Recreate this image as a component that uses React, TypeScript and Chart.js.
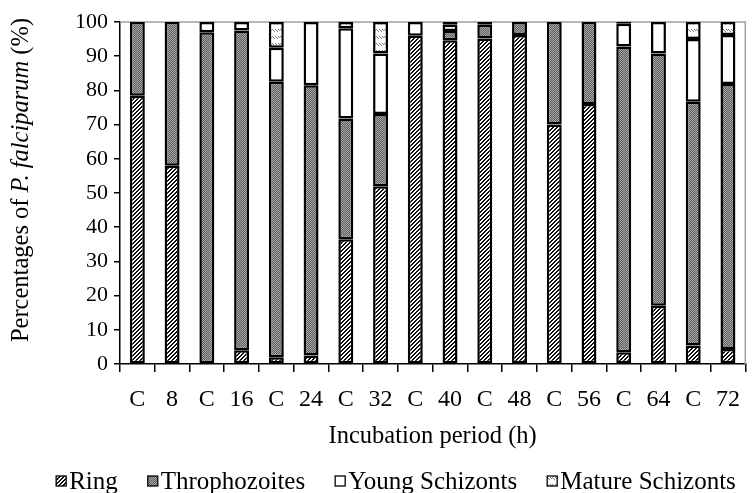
import React, { useEffect, useRef } from 'react';
import { Chart, registerables } from 'chart.js';

Chart.register(...registerables);

const categories = ['C', '8', 'C', '16', 'C', '24', 'C', '32', 'C', '40', 'C', '48', 'C', '56', 'C', '64', 'C', '72'];
const ring = [78.4, 58, 0, 4, 2, 2.5, 36.5, 52, 96, 94.7, 95.2, 96.2, 70, 76, 3.4, 17, 5.4, 4.4];
const throphozoites = [21.6, 42, 97, 93.5, 80.5, 79, 35.3, 21.1, 0, 2.7, 4, 3.8, 30, 24, 89.4, 73.8, 71.3, 77.5];
const youngSchizonts = [0, 0, 3, 2.5, 10, 18.5, 26.4, 17.7, 4, 1.8, 0.8, 0, 0, 0, 6.7, 9.2, 18.3, 14.3];
const matureSchizonts = [0, 0, 0, 0, 7.5, 0, 1.8, 9.2, 0, 0.8, 0, 0, 0, 0, 0.5, 0, 5, 3.8];
const seriesNames = ['Ring', 'Throphozoites', 'Young Schizonts', 'Mature Schizonts'];
const yTicks = [0, 10, 20, 30, 40, 50, 60, 70, 80, 90, 100];

const SERIF = '"Liberation Serif", "Times New Roman", serif';

function makePattern(ctx: CanvasRenderingContext2D, kind: string): CanvasPattern | string {
  const c = document.createElement('canvas');
  const p = c.getContext('2d')!;
  if (kind === 'ring') {
    c.width = 4; c.height = 4;
    p.fillStyle = '#ffffff';
    p.fillRect(0, 0, 4, 4);
    p.fillStyle = '#111111';
    for (let i = 0; i < 4; i++) {
      p.fillRect(i, (3 - i + 4) % 4, 1, 1);
      p.fillRect(i, (4 - i + 4) % 4, 1, 1);
    }
  } else if (kind === 'thro') {
    c.width = 2; c.height = 2;
    p.fillStyle = '#5c5c5c';
    p.fillRect(0, 0, 2, 2);
    p.fillStyle = '#a8a8a8';
    p.fillRect(0, 0, 1, 1);
    p.fillRect(1, 1, 1, 1);
  } else if (kind === 'mature') {
    c.width = 8; c.height = 7;
    p.fillStyle = '#ffffff';
    p.fillRect(0, 0, 8, 7);
    p.fillStyle = '#7a7a7a';
    for (const sx of [0, 3, 6]) {
      p.fillRect(sx, 1, 1, 1);
      p.fillRect(sx + 1, 2, 1, 1);
      p.fillRect(sx + 2, 3, 1, 1);
    }
  } else {
    return '#ffffff';
  }
  return ctx.createPattern(c, 'repeat') as CanvasPattern;
}

const framePlugin = {
  id: 'frame',
  beforeDatasetsDraw(chart: any) {
    const { ctx, chartArea } = chart;
    ctx.save();
    ctx.strokeStyle = '#a0a0a0';
    ctx.lineWidth = 1.5;
    ctx.beginPath();
    ctx.moveTo(chartArea.left, chartArea.top);
    ctx.lineTo(chartArea.right, chartArea.top);
    ctx.lineTo(chartArea.right, chartArea.bottom);
    ctx.stroke();
    ctx.restore();
  },
};

const yTitlePlugin = {
  id: 'yTitle',
  afterDraw(chart: any) {
    const { ctx, chartArea } = chart;
    const size = 24.5;
    const parts = [
      { text: 'Percentages of ', font: `${size}px ${SERIF}` },
      { text: 'P. falciparum', font: `italic ${size}px ${SERIF}` },
      { text: ' (%)', font: `${size}px ${SERIF}` },
    ];
    ctx.save();
    let total = 0;
    const widths = parts.map((pt) => {
      ctx.font = pt.font;
      const w = ctx.measureText(pt.text).width;
      total += w;
      return w;
    });
    const cy = (chartArea.top + chartArea.bottom) / 2 - 13;
    ctx.translate(22, cy);
    ctx.rotate(-Math.PI / 2);
    ctx.fillStyle = '#000';
    ctx.textBaseline = 'middle';
    ctx.textAlign = 'left';
    let x = -total / 2;
    parts.forEach((pt, i) => {
      ctx.font = pt.font;
      ctx.fillText(pt.text, x, 0);
      x += widths[i];
    });
    ctx.restore();
  },
};

const legendPlugin = {
  id: 'customLegend',
  afterDraw(chart: any) {
    const { ctx } = chart;
    const datasets = chart.data.datasets;
    const size = 25;
    const box = 10;
    const textGap = 3;
    const itemGap = 30;
    ctx.save();
    ctx.font = `${size}px ${SERIF}`;
    const widths = datasets.map((d: any) => box + textGap + ctx.measureText(d.label).width);
    const total = widths.reduce((a: number, b: number) => a + b, 0) + itemGap * (datasets.length - 1);
    let x = 396 - total / 2;
    const cy = 481;
    datasets.forEach((d: any, i: number) => {
      ctx.fillStyle = d.backgroundColor;
      ctx.fillRect(x, cy - box / 2, box, box);
      ctx.strokeStyle = '#000';
      ctx.lineWidth = 1.3;
      ctx.strokeRect(x, cy - box / 2, box, box);
      ctx.fillStyle = '#000';
      ctx.textBaseline = 'middle';
      ctx.textAlign = 'left';
      ctx.fillText(d.label, x + box + textGap, cy + 1);
      x += widths[i] + itemGap;
    });
    ctx.restore();
  },
};

export default function App() {
  const ref = useRef<HTMLCanvasElement | null>(null);

  useEffect(() => {
    const canvas = ref.current!;
    const ctx = canvas.getContext('2d')!;
    const fills = [
      makePattern(ctx, 'ring'),
      makePattern(ctx, 'thro'),
      makePattern(ctx, 'young'),
      makePattern(ctx, 'mature'),
    ];
    const values = [ring, throphozoites, youngSchizonts, matureSchizonts];
    const chart = new Chart(ctx, {
      type: 'bar',
      data: {
        labels: categories,
        datasets: values.map((v, i) => ({
          label: seriesNames[i],
          data: v.map((n) => (n === 0 ? null : n)),
          backgroundColor: fills[i] as any,
          borderColor: '#000',
          borderWidth: 2.5,
          borderSkipped: false,
          barPercentage: 0.43,
          categoryPercentage: 1,
        })),
      },
      options: {
        animation: false,
        responsive: true,
        maintainAspectRatio: false,
        layout: { padding: { top: 22, right: 2, left: 0, bottom: 0 } },
        plugins: {
          legend: { display: false },
          tooltip: { enabled: false },
        },
        scales: {
          x: {
            stacked: true,
            afterFit: (scale: any) => { scale.height = 129; },
            grid: {
              offset: true,
              drawOnChartArea: false,
              drawTicks: true,
              tickLength: 8,
              color: '#000',
              lineWidth: 1.5,
            },
            border: { display: true, color: '#000', width: 1.5 },
            ticks: {
              color: '#000',
              padding: 13,
              font: { family: SERIF, size: 24 },
              maxRotation: 0,
              autoSkip: false,
            },
            title: {
              display: true,
              text: 'Incubation period (h)',
              color: '#000',
              font: { family: SERIF, size: 24.5 },
              padding: { top: 0, bottom: 42 },
            },
          },
          y: {
            stacked: true,
            min: 0,
            max: 100,
            afterFit: (scale: any) => { scale.width = 120; },
            afterBuildTicks: (scale: any) => {
              scale.ticks = yTicks.map((v) => ({ value: v }));
            },
            grid: {
              drawOnChartArea: false,
              drawTicks: true,
              tickLength: 6,
              color: '#000',
              lineWidth: 1.5,
            },
            border: { display: true, color: '#000', width: 1.5 },
            ticks: {
              color: '#000',
              padding: 6,
              font: { family: SERIF, size: 22 },
            },
          },
        },
      },
      plugins: [framePlugin, yTitlePlugin, legendPlugin],
    });
    return () => chart.destroy();
  }, []);

  return (
    <div style={{ position: 'fixed', left: 0, top: 0, width: 753, height: 493, background: '#fff' }}>
      <canvas ref={ref} />
    </div>
  );
}
